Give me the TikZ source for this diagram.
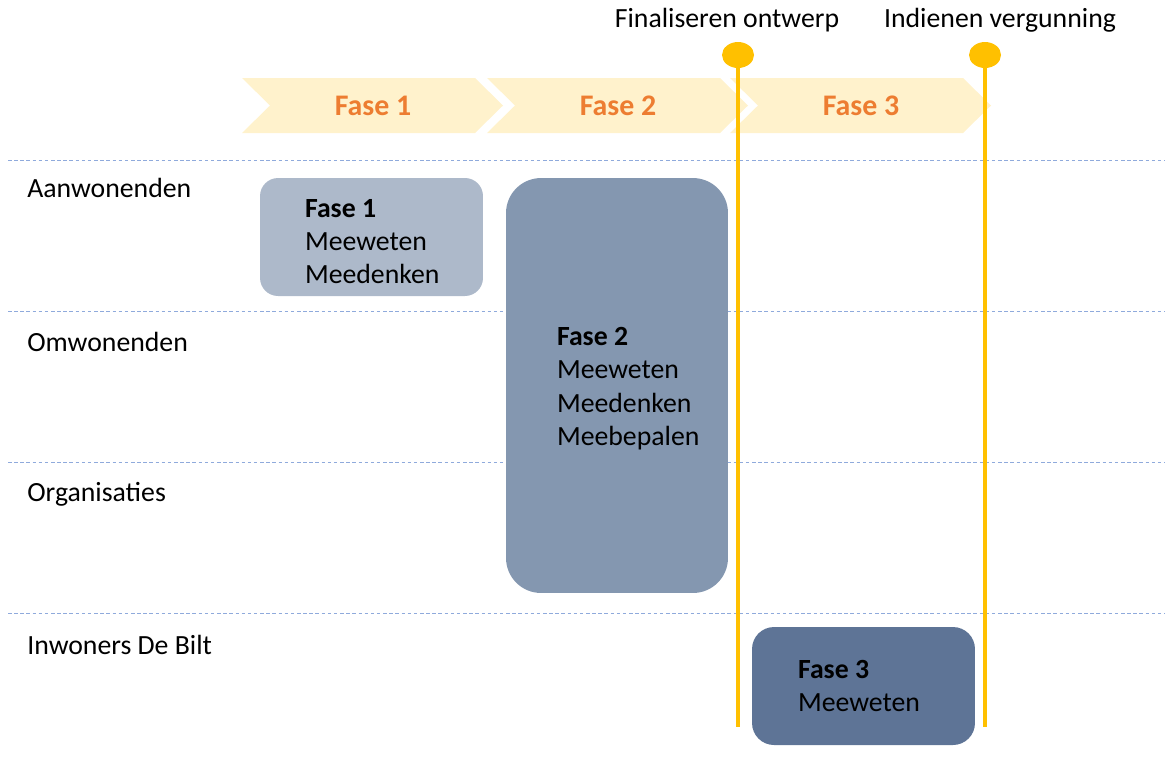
\documentclass[tikz,border=0pt]{standalone}
\usepackage{fontspec}
\setmainfont{Carlito}
\usepackage{tikz}
\usetikzlibrary{shapes,arrows}
\usetikzlibrary{shapes.geometric}
\usetikzlibrary{calc}
\usetikzlibrary{positioning}
\definecolor{chevfill}{HTML}{FFF2CC}
\definecolor{fasetext}{HTML}{ED7D31}
\definecolor{mijlpaal}{HTML}{FFC000}
\definecolor{rowline}{HTML}{8FAADC}
\definecolor{boxlight}{HTML}{ADB9CA}
\definecolor{boxmid}{HTML}{8497B0}
\definecolor{boxdark}{HTML}{5E7496}
\tikzstyle{chevron} = [fill=chevfill]
\tikzstyle{faselabel} = [text=fasetext, font=\fontsize{17pt}{20pt}\selectfont\bfseries, inner sep=0]
\tikzstyle{rowlabel} = [anchor=west, font=\fontsize{15.8pt}{19pt}\selectfont, inner sep=0]
\tikzstyle{divider} = [draw=rowline, line width=0.5pt, dash pattern=on 2pt off 1.5pt]
\tikzstyle{phasebox} = [draw=none, rectangle, inner sep=0]
\tikzstyle{boxtext} = [align=left, font=\fontsize{15.8pt}{19pt}\selectfont, inner sep=0, anchor=west]
\tikzstyle{milestone} = [draw=none, fill=mijlpaal, ellipse, minimum width=0.64cm, minimum height=0.52cm, inner sep=0]
\tikzstyle{msline} = [draw=mijlpaal, line width=2.8pt]
\tikzstyle{mslabel} = [font=\fontsize{15.8pt}{19pt}\selectfont, inner sep=0]

\begin{document}
\begin{tikzpicture}[x=0.02cm, y=-0.02cm]
    \useasboundingbox (0,0) rectangle (1165,762);

    % We start by placing the phase arrows on top
    \foreach \i/\x in {1/242, 2/487, 3/730} {
        \fill [chevron] (\x,78) -- ++(233,0) -- ++(28,27.5) -- ++(-28,27.5)
            -- ++(-233,0) -- ++(28,-27.5) -- cycle;
        \node [faselabel] (fase\i) at (\x+131,105.5) {Fase \i};
    }

    % The dashed row dividers and the row names
    \foreach \y/\name in {160/div1, 311/div2, 462/div3, 613/div4} {
        \coordinate (\name l) at (8,\y);
        \coordinate (\name r) at (1165,\y);
        \draw [divider] (\name l) -- (\name r);
    }
    \node [rowlabel] (aanw) at (27,188) {Aanwonenden};
    \node [rowlabel] (omw) at (27,342) {Omwonenden};
    \node [rowlabel] (org) at (27,494) {Organisaties};
    \node [rowlabel] (inw) at (27,645) {Inwoners De Bilt};

    % Milestones
    \node [milestone] (ms1) at (738,55) {};
    \node [milestone] (ms2) at (985,55) {};
    \coordinate (ms1end) at (738,727);
    \coordinate (ms2end) at (985,727);
    \draw [msline] (ms1.center) -- (ms1end);
    \draw [msline] (ms2.center) -- (ms2end);
    \node [mslabel] (final) at (727,20) {Finaliseren ontwerp};
    \node [mslabel] (indien) at (1000,20) {Indienen vergunning};

    % Participation blocks
    \node [phasebox, fill=boxlight, rounded corners=0.36cm, minimum width=4.46cm, minimum height=2.36cm] (box1) at (371.5,237) {};
    \node [boxtext, right=0.9cm of box1.west, yshift=-0.09cm] (txt1) {\textbf{Fase 1}\\Meeweten\\Meedenken};
    \node [phasebox, fill=boxmid, rounded corners=0.7cm, minimum width=4.44cm, minimum height=8.3cm] (box2) at (617,385.5) {};
    \node [boxtext, right=1.02cm of box2.west, yshift=-0.06cm] (txt2) {\textbf{Fase 2}\\Meeweten\\Meedenken\\Meebepalen};
    \node [phasebox, fill=boxdark, rounded corners=0.44cm, minimum width=4.46cm, minimum height=2.36cm] (box3) at (863.5,686) {};
    \node [boxtext, right=0.92cm of box3.west] (txt3) {\textbf{Fase 3}\\Meeweten};
\end{tikzpicture}
\end{document}
